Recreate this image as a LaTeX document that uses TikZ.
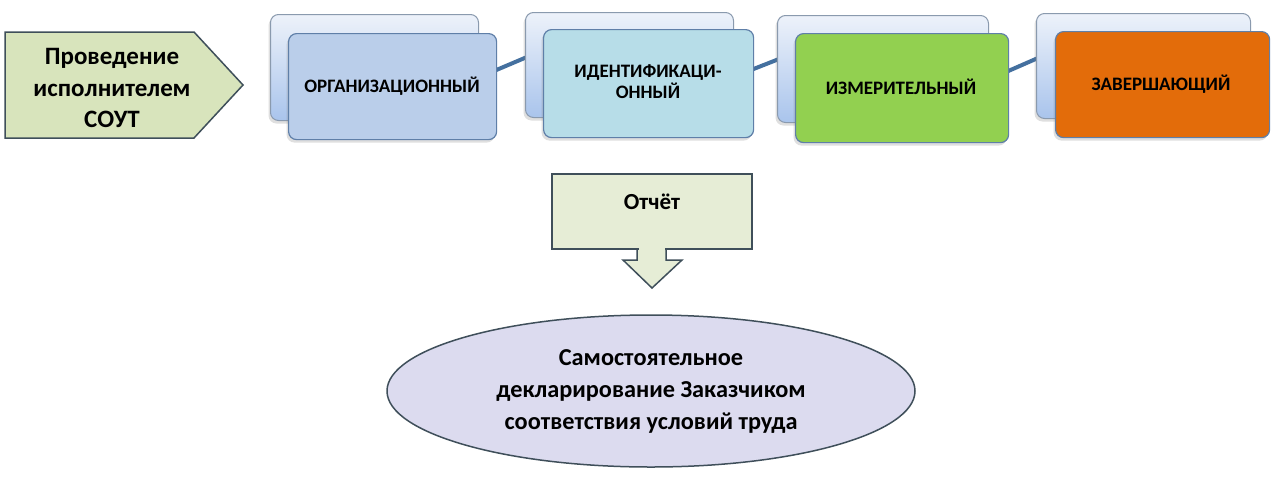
\documentclass[tikz,border=0pt]{standalone}
\usepackage{fontspec}
\setmainfont{Carlito}
\usetikzlibrary{shadows}
\definecolor{bordgray}{HTML}{3F4F5A}
\definecolor{penfill}{HTML}{D8E4BC}
\definecolor{repfill}{HTML}{E6EDD6}
\definecolor{ellfill}{HTML}{DCDBEF}
\definecolor{backtop}{HTML}{EDF2FA}
\definecolor{backbot}{HTML}{A9C4EC}
\definecolor{backbord}{HTML}{8A9AAE}
\definecolor{frontbord}{HTML}{5F7FA8}
\definecolor{fone}{HTML}{BACEEA}
\definecolor{ftwo}{HTML}{B7DDE8}
\definecolor{fthree}{HTML}{92D050}
\definecolor{ffour}{HTML}{E36C0A}
\definecolor{linkblue}{HTML}{44709F}
\begin{document}
\begin{tikzpicture}[x=1pt,y=-1pt,
  backbox/.style={draw=backbord, line width=1pt, rounded corners=8pt,
    top color=backtop, bottom color=backbot, anchor=north west,
    drop shadow={shadow xshift=-2pt, shadow yshift=-3pt, opacity=0.25}},
  frontbox/.style={draw=frontbord, line width=1.2pt, rounded corners=8pt,
    anchor=north west,
    drop shadow={shadow xshift=-2pt, shadow yshift=-3pt, opacity=0.25}},
  boxtext/.style={font=\bfseries\fontsize{19}{21}\selectfont, align=center},
  link/.style={draw=linkblue, line width=4pt},
  bigtext/.style={font=\bfseries\fontsize{25}{31.5}\selectfont, align=center},
  elltext/.style={font=\bfseries\fontsize{24.3}{32}\selectfont, align=center}
]
\useasboundingbox (0,0) rectangle (1280,480);
\fill[white] (0,0) rectangle (1280,480);

% pentagon
\coordinate (p1) at (5,32);
\coordinate (p2) at (194,32);
\coordinate (p3) at (243,85);
\coordinate (p4) at (194,138);
\coordinate (p5) at (5,138);
\draw[fill=penfill, draw=bordgray, line width=1.5pt] (p1) -- (p2) -- (p3) -- (p4) -- (p5) -- cycle;
\node[bigtext] (pent) at (112,88) {Проведение\\исполнителем\\СОУТ};

% links (behind boxes)
\coordinate (l1a) at (494,71); \coordinate (l1b) at (527,57);
\coordinate (l2a) at (751,70); \coordinate (l2b) at (779,59);
\coordinate (l3a) at (1006,72); \coordinate (l3b) at (1038,58);
\draw[link] (l1a) -- (l1b);
\draw[link] (l2a) -- (l2b);
\draw[link] (l3a) -- (l3b);

% back boxes
\node[backbox, minimum width=208pt, minimum height=106pt] (b1) at (270,14) {};
\node[backbox, minimum width=208pt, minimum height=105pt] (b2) at (525,12) {};
\node[backbox, minimum width=211pt, minimum height=107pt] (b3) at (777,15) {};
\node[backbox, minimum width=214pt, minimum height=105pt] (b4) at (1036,13) {};

% front boxes
\node[frontbox, fill=fone, minimum width=208pt, minimum height=106pt] (f1) at (288,33) {};
\node[frontbox, fill=ftwo, minimum width=210pt, minimum height=108pt] (f2) at (543,29) {};
\node[frontbox, fill=fthree, minimum width=213pt, minimum height=109pt] (f3) at (795,33) {};
\node[frontbox, fill=ffour, minimum width=214pt, minimum height=106pt] (f4) at (1055,31) {};

\node[boxtext] (t1) at (392,86) {ОРГАНИЗАЦИОННЫЙ};
\node[boxtext] (t2) at (648,82) {ИДЕНТИФИКАЦИ-\\ОННЫЙ};
\node[boxtext] (t3) at (901,87) {ИЗМЕРИТЕЛЬНЫЙ};
\node[boxtext] (t4) at (1161,84) {ЗАВЕРШАЮЩИЙ};

% report with arrow
\coordinate (a1) at (637,248);
\coordinate (a2) at (637,260);
\coordinate (a3) at (623,260);
\coordinate (a4) at (652,288);
\coordinate (a5) at (682,260);
\coordinate (a6) at (666,260);
\coordinate (a7) at (666,248);
\draw[fill=repfill, draw=bordgray, line width=1.5pt] (a1) -- (a2) -- (a3) -- (a4) -- (a5) -- (a6) -- (a7);
\draw[fill=repfill, draw=bordgray, line width=1.5pt] (552,174) rectangle (752,249);
\fill[repfill] (638.5,247) rectangle (664.5,251);
\node[font=\bfseries\fontsize{23}{27}\selectfont] (rep) at (652,202) {Отчёт};

% ellipse
\draw[fill=ellfill, draw=bordgray, line width=1.5pt] (651,391) ellipse [x radius=264, y radius=76];
\node[elltext] (ell) at (651,391) {Самостоятельное\\декларирование Заказчиком\\соответствия условий труда};
\end{tikzpicture}
\end{document}
